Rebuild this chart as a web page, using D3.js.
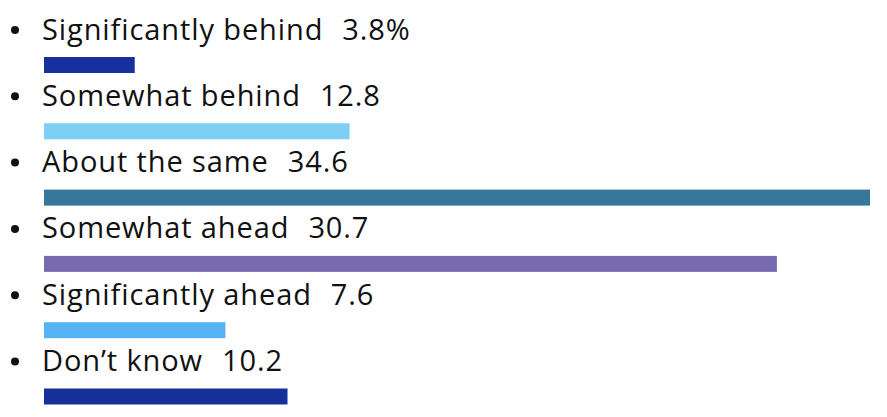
<!DOCTYPE html>
<html><head><meta charset="utf-8">
<script src="https://cdn.jsdelivr.net/npm/d3@7"></script>
<style>html,body{margin:0;padding:0;background:#fff;}</style>
</head><body>
<svg id="chart" width="887" height="417"></svg>
<script>
const categories = ["Significantly behind","Somewhat behind","About the same","Somewhat ahead","Significantly ahead","Don\u2019t know"];
const values = [3.8, 12.8, 34.6, 30.7, 7.6, 10.2];
const valueLabels = ["3.8%","12.8","34.6","30.7","7.6","10.2"];
const colors = ["#17309b","#7dcff5","#35789c","#776aae","#56b4f5","#16309a"];

const svg = d3.select("#chart");
const y = d3.scaleBand().domain(categories).range([23, 23 + 6*66.3]).padding(0);
const x = d3.scaleLinear().domain([0, 34.6]).range([44, 870]);

const font = "'Open Sans', sans-serif";
const rows = svg.selectAll("g.row").data(categories).join("g").attr("class","row")
  .attr("transform", d => `translate(0,${y(d)})`);

rows.append("circle").attr("cx",15).attr("cy",7).attr("r",4).attr("fill","#111");

rows.append("text").attr("x",42).attr("y",16.5)
  .attr("font-family",font).attr("font-size",29).attr("fill","#111")
  .attr("letter-spacing","0.9")
  .text(d => d);

rows.each(function(d,i){
  const g = d3.select(this);
  const w = g.select("text").node().getComputedTextLength();
  g.append("text").attr("x", 42 + w + 19).attr("y",16.5)
    .attr("font-family",font).attr("font-size",29).attr("fill","#111")
    .attr("letter-spacing","0.9")
    .text(valueLabels[i]);
});

rows.append("rect").attr("x", x(0)).attr("y", 34)
  .attr("width", (d,i) => x(values[i]) - x(0)).attr("height", 16)
  .attr("fill", (d,i) => colors[i]);
</script>
</body></html>
